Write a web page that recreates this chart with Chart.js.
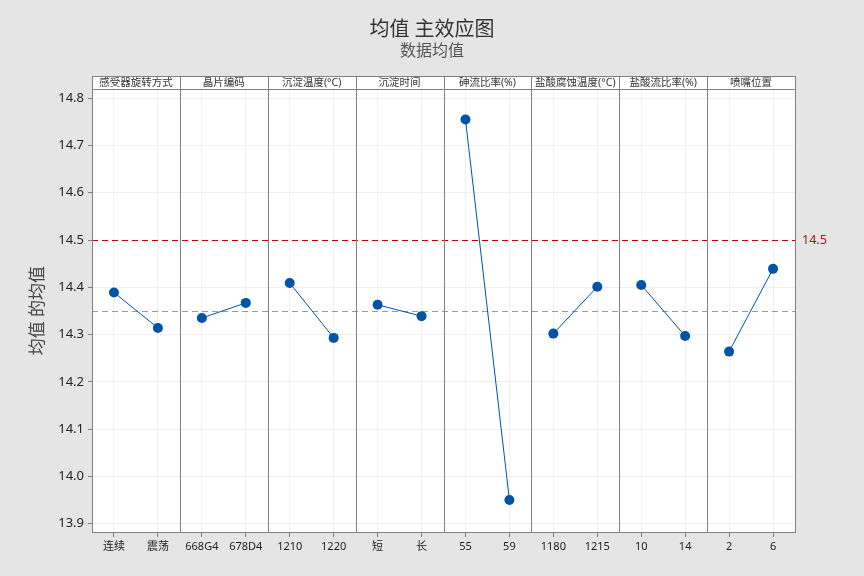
<!DOCTYPE html>
<html>
<head>
<meta charset="utf-8">
<script src="https://cdn.jsdelivr.net/npm/chart.js@4/dist/chart.umd.min.js"></script>
<style>
  body { margin: 0; background: #e5e5e5; }
  #c { display: block; }
</style>
</head>
<body>
<canvas id="c" width="864" height="576"></canvas>
<script>
/* données : 8 facteurs, 2 niveaux chacun */
var factors = ['感受器旋转方式', '晶片编码', '沉淀温度(°C)', '沉淀时间', '砷流比率(%)', '盐酸腐蚀温度(°C)', '盐酸流比率(%)', '喷嘴位置'];
var levels = ['连续', '震荡', '668G4', '678D4', '1210', '1220', '短', '长', '55', '59', '1180', '1215', '10', '14', '2', '6'];
var means = [14.389, 14.314, 14.335, 14.367, 14.409, 14.293, 14.363, 14.339, 14.755, 13.950, 14.302, 14.401, 14.405, 14.297, 14.264, 14.439];
var yTicks = [13.9, 14.0, 14.1, 14.2, 14.3, 14.4, 14.5, 14.6, 14.7, 14.8];
var grandMean = 14.35;
var target = 14.5;

var FONT = "'Noto Sans', 'Noto Sans CJK SC', sans-serif";
var BLUE = '#0054a6';

var datasets = factors.map(function (f, i) {
    return {
        label: f,
        data: [
            { x: levels[2 * i], y: means[2 * i] },
            { x: levels[2 * i + 1], y: means[2 * i + 1] }
        ],
        borderColor: BLUE,
        backgroundColor: BLUE,
        borderWidth: 1,
        pointRadius: 5,
        pointHoverRadius: 5,
        pointBorderWidth: 0,
        pointBackgroundColor: BLUE
    };
});

/* fond, lignes de référence, séparateurs et en-têtes des panneaux */
var panels = {
    id: 'panels',
    beforeDraw: function (chart) {
        var ctx = chart.ctx, a = chart.chartArea;
        ctx.save();
        ctx.fillStyle = '#e5e5e5';
        ctx.fillRect(0, 0, chart.width, chart.height);
        ctx.fillStyle = '#ffffff';
        ctx.fillRect(a.left, a.top - 13, a.right - a.left, a.bottom - a.top + 13);
        ctx.restore();
    },
    beforeDatasetsDraw: function (chart) {
        var ctx = chart.ctx, a = chart.chartArea, x = chart.scales.x, y = chart.scales.y;
        ctx.save();
        // lignes horizontales : cible et moyenne
        ctx.lineWidth = 1;
        ctx.setLineDash([6, 4]);
        ctx.strokeStyle = '#c00000';
        var yt = Math.round(y.getPixelForValue(target)) + 0.5;
        ctx.beginPath(); ctx.moveTo(a.left, yt); ctx.lineTo(a.right, yt); ctx.stroke();
        ctx.strokeStyle = '#999999';
        var ym = Math.round(y.getPixelForValue(grandMean)) + 0.5;
        ctx.beginPath(); ctx.moveTo(a.left, ym); ctx.lineTo(a.right, ym); ctx.stroke();
        ctx.setLineDash([]);
        // séparateurs
        ctx.strokeStyle = '#808080';
        for (var i = 1; i < factors.length; i++) {
            var px = Math.round((x.getPixelForValue(2 * i - 1) + x.getPixelForValue(2 * i)) / 2) + 0.5;
            ctx.beginPath(); ctx.moveTo(px, a.top - 13); ctx.lineTo(px, a.bottom); ctx.stroke();
        }
        ctx.restore();
    },
    afterDraw: function (chart) {
        var ctx = chart.ctx, a = chart.chartArea, x = chart.scales.x, y = chart.scales.y;
        ctx.save();
        ctx.strokeStyle = '#808080';
        ctx.lineWidth = 1;
        ctx.strokeRect(Math.round(a.left) + 0.5, Math.round(a.top - 13) + 0.5, Math.round(a.right - a.left), Math.round(a.bottom - a.top + 13));
        ctx.beginPath();
        ctx.moveTo(a.left, Math.round(a.top) + 0.5);
        ctx.lineTo(a.right, Math.round(a.top) + 0.5);
        ctx.stroke();
        ctx.fillStyle = '#333333';
        ctx.font = '10.5px ' + FONT;
        ctx.textAlign = 'center';
        ctx.textBaseline = 'middle';
        for (var i = 0; i < factors.length; i++) {
            var l = i === 0 ? a.left : (x.getPixelForValue(2 * i - 1) + x.getPixelForValue(2 * i)) / 2;
            var r = i === factors.length - 1 ? a.right : (x.getPixelForValue(2 * i + 1) + x.getPixelForValue(2 * i + 2)) / 2;
            ctx.fillText(factors[i], (l + r) / 2, a.top - 6);
        }
        ctx.fillStyle = '#a31515';
        ctx.font = '12.5px ' + FONT;
        ctx.textAlign = 'left';
        ctx.fillText(String(target), a.right + 7, y.getPixelForValue(target));
        ctx.restore();
    }
};

var chart = new Chart(document.getElementById('c'), {
    type: 'line',
    data: { labels: levels, datasets: datasets },
    options: {
        responsive: false,
        animation: false,
        layout: { padding: { left: 0, right: 0, top: 0, bottom: 14 } },
        plugins: {
            legend: { display: false },
            tooltip: { enabled: false },
            title: {
                display: true,
                text: '均值 主效应图',
                color: '#333333',
                font: { family: FONT, size: 20, weight: 'normal', lineHeight: 1.2 },
                padding: { top: 18, bottom: 0 }
            },
            subtitle: {
                display: true,
                text: '数据均值',
                color: '#555555',
                font: { family: FONT, size: 16, weight: 'normal', lineHeight: 1.2 },
                padding: { top: 0, bottom: 28 }
            }
        },
        scales: {
            x: {
                type: 'category',
                offset: true,
                grid: { offset: false, color: '#f0f0f0', tickColor: '#808080', tickLength: 5 },
                border: { display: false },
                ticks: { color: '#222222', font: { family: FONT, size: 11 }, autoSkip: false, maxRotation: 0, padding: 3 },
                afterFit: function (s) { s.height = 30; }
            },
            y: {
                min: 13.8824,
                max: 14.819,
                grid: { color: '#f0f0f0', tickColor: '#808080', tickLength: 4 },
                border: { display: false },
                afterBuildTicks: function (s) { s.ticks = yTicks.map(function (v) { return { value: v }; }); },
                ticks: {
                    color: '#222222',
                    font: { family: FONT, size: 13 },
                    padding: 4,
                    callback: function (v) { return Number(v).toFixed(1); }
                },
                title: {
                    display: true,
                    text: '均值 的均值',
                    color: '#444444',
                    font: { family: FONT, size: 17 },
                    padding: { top: 28, bottom: 0 }
                },
                afterFit: function (s) { s.width = 92; }
            },
            yRight: {
                type: 'linear',
                position: 'right',
                display: true,
                grid: { display: false, drawTicks: false },
                border: { display: false },
                ticks: { display: false },
                afterFit: function (s) { s.width = 69; }
            }
        }
    },
    plugins: [panels]
});
</script>
</body>
</html>
